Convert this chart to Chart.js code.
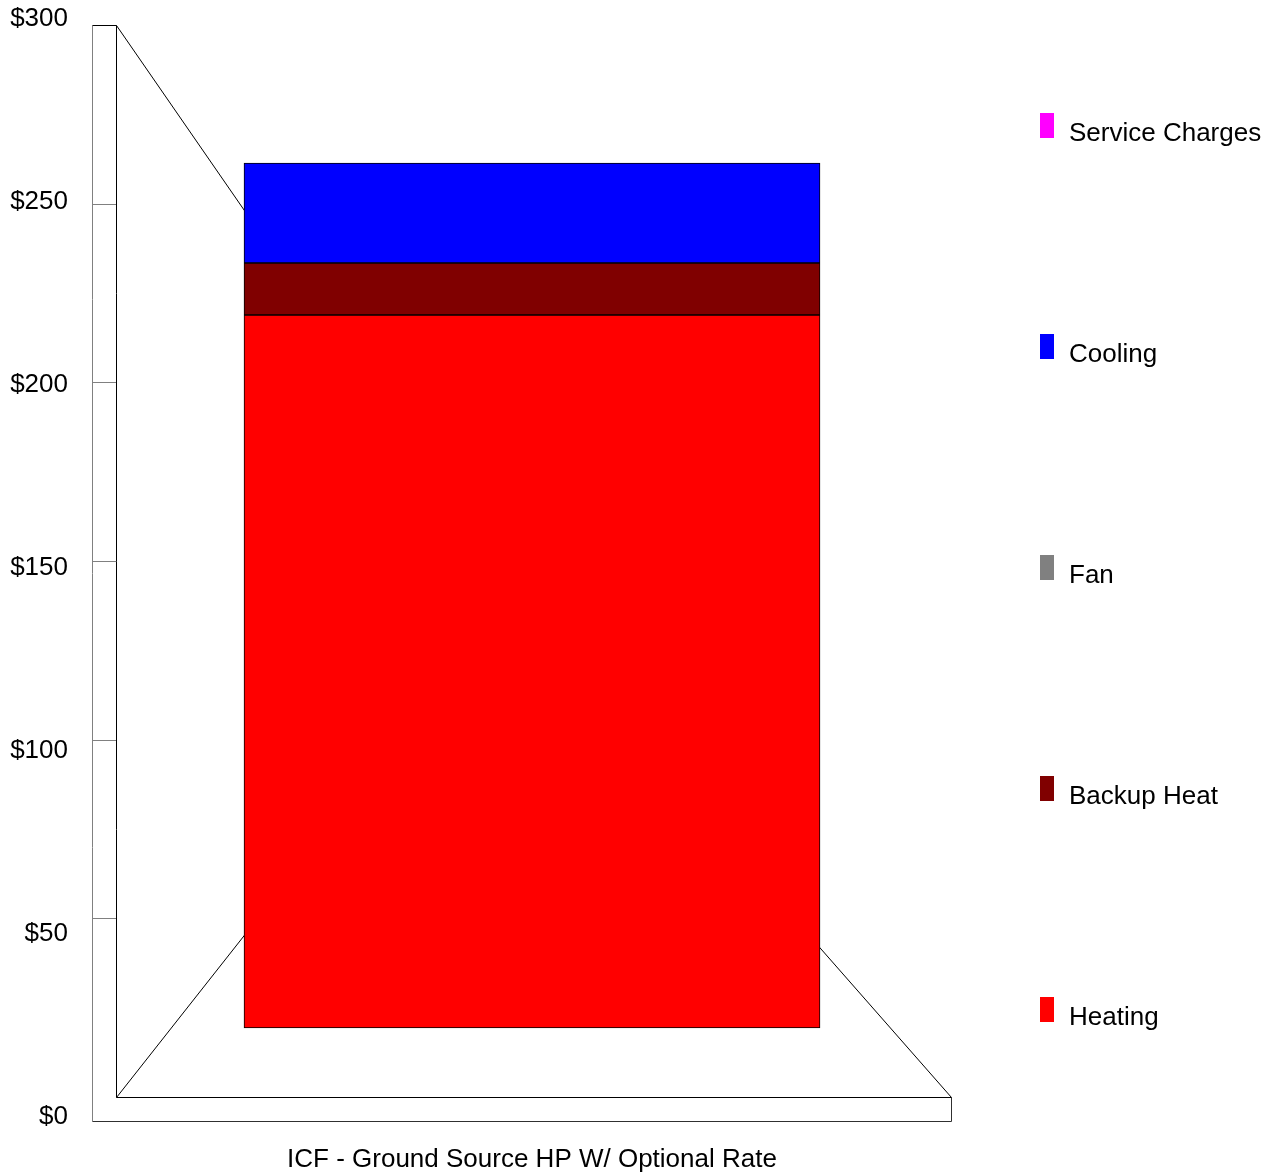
<!DOCTYPE html>
<html>
<head>
<meta charset="utf-8">
<script src="https://cdn.jsdelivr.net/npm/chart.js@4.4.0/dist/chart.umd.min.js"></script>
<style>
  html, body { margin: 0; padding: 0; background: #fff; }
</style>
</head>
<body>
<canvas id="costChart" width="1274" height="1175"></canvas>
<script>
// ── data ──
const categories = ['ICF - Ground Source HP W/ Optional Rate'];
const seriesNames = ['Heating', 'Backup Heat', 'Fan', 'Cooling', 'Service Charges'];
const seriesColors = ['#ff0000', '#800000', '#808080', '#0000ff', '#ff00ff'];
// floating segments [from, to] in $, read against the wall ticks
const heating = [[19.31, 218.84]];
const backupHeat = [[218.84, 233.40]];
const fan = [[233.40, 233.40]];
const cooling = [[233.40, 261.38]];
const serviceCharges = [[261.38, 261.38]];
const yTicks = [0, 50, 100, 150, 200, 250, 300];
const wallTicks = [50, 100, 150, 200, 250];

const FONT = 'Liberation Sans, Arial, sans-serif';
const seriesData = [heating, backupHeat, fan, cooling, serviceCharges];

/** 3D frame: left wall, floor, and lines to the vanishing point */
const framePlugin = {
  id: 'frame',
  beforeDatasetsDraw(chart) {
    const { ctx, chartArea: a } = chart;
    const w = chart.scales.yWall;
    const depth = 24;
    const L = Math.round(a.left) + 0.5, R = Math.round(a.right) + 3.5;
    const top = Math.round(w.getPixelForValue(300)) + 0.5;
    const base = Math.round(w.getPixelForValue(0)) + 0.5;
    const vp = { x: L + (R - L) * 0.473, y: w.getPixelForValue(140) };

    ctx.save();
    ctx.lineWidth = 1;

    // perspective lines (the bar hides their far ends)
    ctx.strokeStyle = '#000';
    ctx.beginPath();
    ctx.moveTo(L, top); ctx.lineTo(vp.x, vp.y);
    ctx.moveTo(L, base); ctx.lineTo(vp.x, vp.y);
    ctx.moveTo(R, base); ctx.lineTo(vp.x, vp.y);
    ctx.stroke();

    // wall front edge + ticks
    ctx.strokeStyle = '#808080';
    ctx.beginPath();
    ctx.moveTo(L - depth, top); ctx.lineTo(L - depth, base + depth);
    wallTicks.forEach(v => {
      const y = Math.round(w.getPixelForValue(v)) + 0.5;
      ctx.moveTo(L - depth, y); ctx.lineTo(L, y);
    });
    ctx.stroke();

    // floor front and right edge
    ctx.strokeStyle = '#303030';
    ctx.beginPath();
    ctx.moveTo(L - depth, base + depth); ctx.lineTo(R, base + depth);
    ctx.lineTo(R, base);
    ctx.stroke();

    // back edges
    ctx.strokeStyle = '#000';
    ctx.beginPath();
    ctx.moveTo(L - depth, top); ctx.lineTo(L, top);
    ctx.lineTo(L, base); ctx.lineTo(R, base);
    ctx.stroke();
    ctx.restore();
  }
};

/** legend on the right, top to bottom in reverse stacking order */
const legendPlugin = {
  id: 'sideLegend',
  afterDraw(chart) {
    const { ctx } = chart;
    const x0 = 1040, y0 = 113, gap = 221;
    ctx.save();
    ctx.font = '26px ' + FONT;
    ctx.textBaseline = 'middle';
    ctx.textAlign = 'left';
    const items = chart.data.datasets.slice().reverse();
    items.forEach((ds, i) => {
      const y = y0 + i * gap;
      ctx.fillStyle = ds.backgroundColor;
      ctx.fillRect(x0, y, 14, 25);
      ctx.fillStyle = '#000';
      ctx.fillText(ds.label, x0 + 29, y + 21);
    });
    ctx.restore();
  }
};

const datasets = seriesNames.map((name, i) => ({
  label: name,
  data: seriesData[i],
  backgroundColor: seriesColors[i],
  borderColor: '#000',
  borderWidth: 1,
  borderSkipped: false,
  grouped: false,
  yAxisID: 'yWall',
  barThickness: 576
}));

const ctx = document.getElementById('costChart').getContext('2d');
new Chart(ctx, {
  type: 'bar',
  data: { labels: categories, datasets },
  plugins: [framePlugin, legendPlugin],
  options: {
    responsive: false,
    animation: false,
    devicePixelRatio: 1,
    layout: { padding: { top: 17, right: 326, bottom: 0, left: 0 } },
    plugins: { legend: { display: false }, tooltip: { enabled: false } },
    scales: {
      x: {
        grid: { display: false, drawTicks: false },
        border: { display: false },
        ticks: { color: '#000', font: { family: FONT, size: 26 }, padding: 29, maxRotation: 0 },
        afterFit: s => { s.height = 60; s.paddingLeft = 0; s.paddingRight = 0; }
      },
      y: {
        position: 'left',
        min: 0, max: 300,
        grid: { display: false, drawTicks: false },
        border: { display: false },
        afterBuildTicks: s => { s.ticks = yTicks.map(v => ({ value: v })); },
        ticks: { color: '#000', font: { family: FONT, size: 26 }, padding: 48, labelOffset: 2, callback: v => '$' + v },
        afterFit: s => { s.width = 116; s.paddingTop = 0; s.paddingBottom = 0; }
      },
      yWall: {
        position: 'left',
        display: false,
        min: -18 / 3.573333, max: 300 + 8 / 3.573333
      }
    }
  }
});
</script>
</body>
</html>
